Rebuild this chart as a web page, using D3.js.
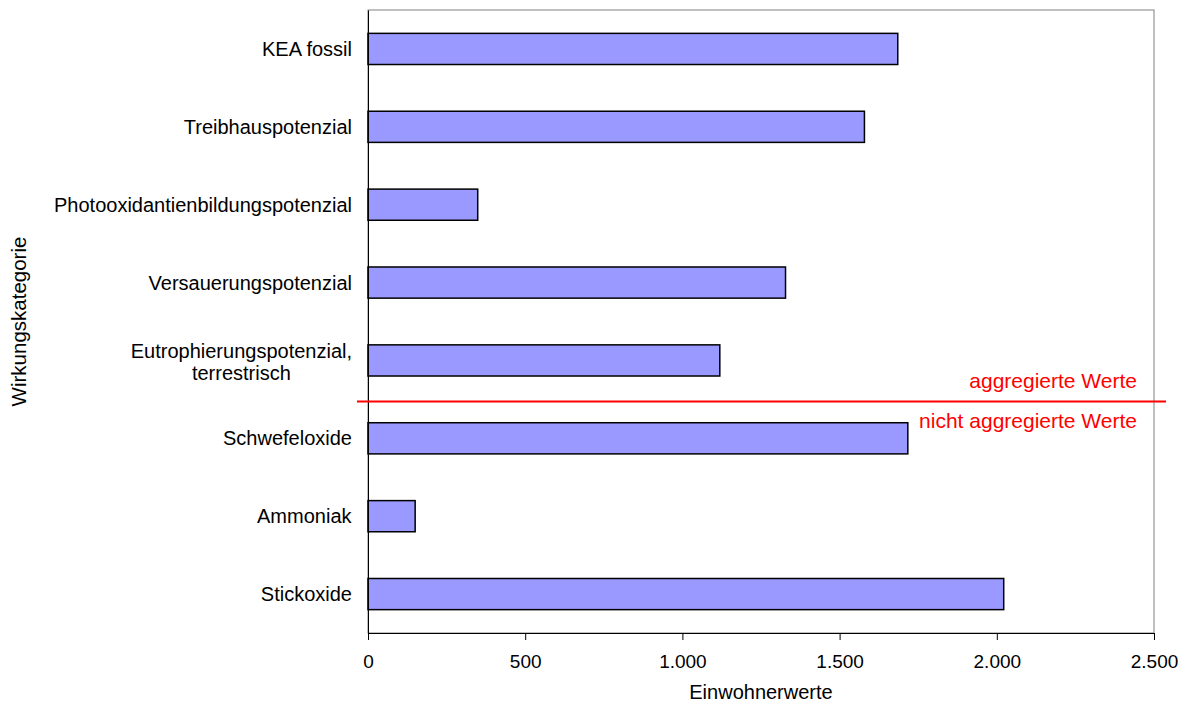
<!DOCTYPE html>
<html>
<head>
<meta charset="utf-8">
<script src="https://cdn.jsdelivr.net/npm/d3@7"></script>
<style>
  html, body { margin: 0; padding: 0; background: #fff; }
  svg text { font-family: "Liberation Sans", Arial, sans-serif; fill: #000; }
</style>
</head>
<body>
<svg id="chart" width="1185" height="704"></svg>
<script>
// Wirkungskategorien (top to bottom) and their Einwohnerwerte
const categories = [
  "KEA fossil",
  "Treibhauspotenzial",
  "Photooxidantienbildungspotenzial",
  "Versauerungspotenzial",
  "Eutrophierungspotenzial,\nterrestrisch",
  "Schwefeloxide",
  "Ammoniak",
  "Stickoxide"
];
const values = [1685, 1579, 349, 1328, 1119, 1717, 150, 2022];
const xTicks = [0, 500, 1000, 1500, 2000, 2500];
const aggregatedCount = 5; // first five categories are aggregated values

const svg = d3.select("#chart");
const margin = { left: 368, right: 31, top: 10, bottom: 71 };
const W = 1185, H = 704;
const plotW = W - margin.left - margin.right;
const plotH = H - margin.top - margin.bottom;

const x = d3.scaleLinear().domain([0, 2500]).range([margin.left, margin.left + plotW]);
const y = d3.scaleBand().domain(categories).range([margin.top, margin.top + plotH])
  .paddingInner(0.6).paddingOuter(0.3);

const fmt = d3.formatLocale({ decimal: ",", thousands: ".", grouping: [3], currency: ["", " €"] }).format(",");

// plot frame
svg.append("rect")
  .attr("x", margin.left).attr("y", margin.top)
  .attr("width", plotW).attr("height", plotH)
  .attr("fill", "none").attr("stroke", "#808080").attr("stroke-width", 1);

// bars
svg.append("g").selectAll("rect").data(categories).join("rect")
  .attr("x", x(0))
  .attr("y", d => y(d))
  .attr("width", (d, i) => x(values[i]) - x(0))
  .attr("height", y.bandwidth())
  .attr("fill", "#9999ff")
  .attr("stroke", "#000").attr("stroke-width", 1.5);

// x axis
const xAxis = svg.append("g")
  .attr("transform", `translate(0,${margin.top + plotH})`)
  .call(d3.axisBottom(x).tickValues(xTicks).tickFormat(fmt).tickSize(7).tickPadding(15));
xAxis.select(".domain").attr("stroke", "#000");
xAxis.selectAll(".tick line").attr("stroke", "#000");
xAxis.selectAll("text").attr("font-size", 19).attr("fill", "#000")
  .attr("font-family", "Liberation Sans, Arial, sans-serif");

// y axis (left spine; category labels are drawn separately for multi-line text)
const yAxis = svg.append("g")
  .attr("transform", `translate(${margin.left},0)`)
  .call(d3.axisLeft(y).tickSize(0).tickFormat(""));
yAxis.select(".domain").attr("stroke", "#000");

const labels = svg.append("g");
categories.forEach((c, i) => {
  const lines = c.split("\n");
  const cy = y(c) + y.bandwidth() / 2 + (lines.length > 1 ? 2 : 0);
  const lh = 22;
  const t = labels.append("text")
    .attr("text-anchor", "middle")
    .attr("font-size", 20)
    .attr("x", 0).attr("y", 0);
  lines.forEach((ln, j) => {
    t.append("tspan")
      .attr("x", 0)
      .attr("y", cy + (j - (lines.length - 1) / 2) * lh)
      .attr("dy", "0.35em")
      .text(ln);
  });
  // right-align the block against the axis while centring multi-line text
  const bb = t.node().getBBox();
  t.attr("transform", `translate(${margin.left - 16 - bb.width / 2},0)`);
});

// separator between aggregated and non-aggregated values
const sepY = (y(categories[aggregatedCount - 1]) + y.bandwidth() + y(categories[aggregatedCount])) / 2 + 2;
svg.append("line")
  .attr("x1", margin.left - 11).attr("x2", margin.left + plotW + 12)
  .attr("y1", sepY).attr("y2", sepY)
  .attr("stroke", "#ff0000").attr("stroke-width", 2);
svg.append("text")
  .attr("x", 1137).attr("y", sepY - 13)
  .attr("text-anchor", "end").attr("font-size", 21)
  .style("fill", "#ff0000")
  .text("aggregierte Werte");
svg.append("text")
  .attr("x", 1137).attr("y", sepY + 27)
  .attr("text-anchor", "end").attr("font-size", 21)
  .style("fill", "#ff0000")
  .text("nicht aggregierte Werte");

// axis titles
svg.append("text")
  .attr("x", margin.left + plotW / 2).attr("y", 699)
  .attr("text-anchor", "middle").attr("font-size", 20)
  .text("Einwohnerwerte");
svg.append("text")
  .attr("transform", `translate(26,${margin.top + plotH / 2}) rotate(-90)`)
  .attr("text-anchor", "middle").attr("font-size", 20.5)
  .text("Wirkungskategorie");
</script>
</body>
</html>
